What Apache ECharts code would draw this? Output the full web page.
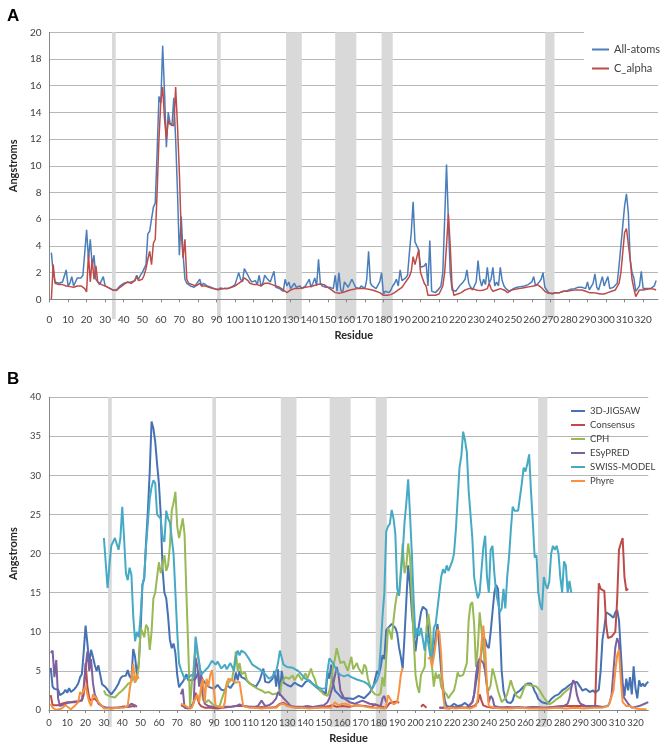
<!DOCTYPE html>
<html><head><meta charset="utf-8">
<script src="https://cdn.jsdelivr.net/npm/echarts/dist/echarts.min.js"></script>
<style>html,body{margin:0;padding:0;background:#fff}#c{width:661px;height:746px}</style>
</head><body><div id="c"></div>
<script>
// ---------- Panel A (values for residues 1..327) ----------
const allAtoms = [
3.5,2.0,1.3,1.4,1.2,1.1,1.3,1.2,2.2,1.0,
1.2,1.7,1.0,1.3,1.6,1.7,1.6,1.8,1.7,5.2,
3.0,4.5,2.5,3.3,1.5,1.3,1.1,1.2,1.7,1.0,
0.95,0.85,0.8,0.7,0.65,0.7,0.85,1.0,1.1,1.2,
1.3,1.25,1.2,1.3,1.2,1.4,1.8,1.5,1.8,2.0,
2.3,2.6,4.9,5.1,5.0,6.9,7.2,11.0,15.2,14.7,
19.0,15.5,11.4,14.0,13.2,13.0,15.1,12.0,8.0,3.3,
6.2,3.4,1.5,1.2,1.1,1.0,1.1,0.9,1.0,1.3,
1.5,1.0,1.2,1.1,1.0,1.0,0.9,0.9,0.8,0.8,
0.7,0.85,0.75,0.8,0.9,0.8,0.9,0.9,1.0,1.1,
1.2,2.0,1.5,1.3,2.3,2.3,1.8,1.5,1.3,1.2,
1.4,1.1,1.8,1.0,1.2,1.8,1.6,1.5,1.3,1.4,
2.1,0.9,1.0,0.8,0.7,0.6,1.5,1.0,1.3,0.8,
1.0,1.2,0.9,0.8,1.0,0.8,0.9,1.0,0.9,1.5,
0.9,1.2,1.6,1.0,3.0,1.2,1.0,1.1,0.9,1.0,
0.9,1.0,0.8,1.8,0.6,2.0,0.7,0.5,1.3,1.2,
0.9,1.0,1.5,1.4,0.9,0.8,0.8,1.0,0.9,0.8,
1.5,3.6,1.2,1.0,1.0,0.8,0.9,1.3,2.0,0.4,
0.6,0.7,0.5,0.7,1.0,1.2,1.5,1.0,2.2,1.4,
1.5,1.6,1.8,3.5,5.0,7.3,4.3,4.2,3.7,2.4,
2.5,2.5,2.7,1.0,4.4,0.6,0.5,0.5,0.6,0.8,
1.0,2.0,6.0,10.1,6.0,2.0,0.7,0.6,0.6,0.8,
1.0,1.0,1.3,1.5,2.2,1.2,0.9,0.7,1.0,1.3,
2.9,1.5,1.0,1.5,1.1,2.4,1.2,1.5,2.4,1.0,
1.3,1.0,2.4,1.4,1.0,0.8,0.7,0.6,0.7,0.8,
0.85,0.9,0.9,0.95,1.0,1.0,1.0,1.1,1.2,1.3,
1.7,1.0,1.1,1.3,1.5,2.0,0.9,0.7,0.5,0.45,
0.4,0.5,0.5,0.45,0.5,0.55,0.6,0.6,0.65,0.7,
0.75,0.8,0.8,0.85,0.9,0.9,0.9,0.85,0.8,1.3,
0.7,0.6,1.2,1.9,0.9,0.7,0.8,1.7,1.0,0.9,
1.7,0.8,0.8,0.9,1.0,1.2,2.5,4.0,5.5,7.0,
7.9,6.5,3.0,2.0,1.6,0.6,0.8,1.0,2.1,0.8,
0.9,0.8,0.9,0.8,0.9,1.0,1.4];
const cAlpha = [
0,2.6,1.2,1.2,1.1,1.1,1.1,1.0,1.0,1.0,
0.95,0.9,0.9,0.95,1.0,1.0,1.0,0.9,0.8,0.55,
3.4,1.3,3.0,1.5,2.5,1.3,1.2,1.1,1.1,1.0,
0.9,0.85,0.8,0.7,0.6,0.65,0.75,0.9,1.0,1.1,
1.2,1.3,1.25,1.2,1.3,1.4,1.7,1.4,1.4,1.5,
1.8,2.3,3.0,3.6,2.6,4.2,4.5,8.0,12.0,14.8,
15.9,13.5,12.0,13.4,13.1,13.0,13.0,15.9,13.0,9.5,
5.0,3.1,4.5,1.5,1.2,1.1,1.1,1.05,1.0,1.1,
1.2,1.0,1.0,1.0,0.95,0.9,0.85,0.8,0.8,0.75,
0.75,0.75,0.75,0.8,0.8,0.8,0.85,0.9,0.95,1.0,
1.1,1.2,1.3,1.4,1.6,1.7,1.4,1.2,1.1,1.1,
1.2,1.1,1.0,1.0,1.1,1.2,1.3,1.2,1.1,1.1,
1.1,1.0,1.0,0.9,0.8,0.7,0.6,0.5,0.55,0.7,
0.75,0.8,0.8,0.8,0.85,0.85,0.85,0.9,0.9,0.95,
1.0,1.0,1.0,1.1,1.1,1.15,1.2,1.1,1.0,0.9,
0.8,0.7,0.6,0.5,0.45,0.45,0.45,0.5,0.55,0.6,
0.65,0.7,0.75,0.75,0.8,0.8,0.8,0.8,0.8,0.8,
0.75,0.75,0.7,0.7,0.65,0.6,0.55,0.5,0.4,0.3,
0.25,0.3,0.3,0.35,0.4,0.5,0.6,0.7,0.8,0.9,
1.1,1.3,1.5,1.7,2.1,3.2,2.6,2.7,3.7,2.0,
1.6,1.2,1.0,0.3,0.3,0.3,0.3,0.3,0.3,0.4,
0.5,1.0,2.0,4.0,6.4,4.0,1.0,0.3,0.3,0.4,
0.5,0.5,0.6,0.7,0.8,0.8,0.8,0.8,0.75,0.7,
0.6,0.65,0.7,0.7,0.6,0.8,1.2,0.8,0.6,0.7,
0.7,0.75,0.8,0.8,0.7,0.6,0.5,0.6,0.7,0.7,
0.75,0.8,0.8,0.85,0.85,0.9,0.9,0.9,0.95,1.0,
1.0,1.05,1.1,1.0,0.9,0.8,0.6,0.5,0.45,0.4,
0.45,0.5,0.5,0.5,0.5,0.55,0.6,0.6,0.6,0.6,
0.65,0.7,0.7,0.7,0.7,0.7,0.7,0.65,0.6,0.55,
0.5,0.5,0.5,0.5,0.45,0.45,0.4,0.4,0.4,0.45,
0.5,0.55,0.6,0.6,0.7,0.7,1.2,2.0,3.5,5.0,
5.3,5.4,3.0,1.5,0.8,0.2,0.3,0.7,0.7,0.7,
0.7,0.75,0.8,0.8,0.8,0.75,0.7];

// ---------- Panel B ([residue, value]; null = gap) ----------
const jigsaw3d = [[1,5.4],[2,3.0],[3,2.7],[5,2.6],[6,1.9],[7,1.8],[8,2.2],[9,2.6],[10,2.2],[11,2.8],[12,2.3],[13,2.1],[14,2.7],[15,3.0],[16,3.4],[17,4.2],[18,4.6],[19,7.5],[20,10.8],[21,8.5],[22,6.0],[23,7.7],[24,6.8],[25,5.8],[26,5.0],[27,5.7],[28,4.5],[29,3.3],[30,3.2],[31,2.9],[33,2.3],[34,2.0],[35,2.1],[36,2.6],[38,3.4],[39,4.0],[40,4.3],[41,4.5],[42,4.4],[43,5.1],[44,4.3],[45,4.0],[46,7.8],[47,6.8],[48,4.5],[49,6.0],[50,10.0],[51,16.0],[52,16.8],[53,21.5],[54,25.5],[55,30.5],[56,36.9],[57,36.0],[58,34.3],[59,31.5],[60,29.0],[61,25.0],[62,18.0],[63,15.0],[64,14.3],[65,12.0],[66,9.0],[67,7.9],[68,8.5],[69,7.3],[70,4.5],[71,2.9],[72,3.3],[73,3.6],[74,4.0],[75,4.6],[76,3.8],[78,3.8],[80,4.0],[81,4.6],[82,5.0],[83,4.2],[85,3.5],[87,3.0],[88,2.9],[90,2.7],[92,3.2],[94,2.6],[96,2.5],[97,3.2],[99,2.8],[101,3.5],[102,4.8],[103,3.8],[104,5.0],[105,4.2],[107,4.0],[109,3.5],[111,3.2],[113,3.0],[115,3.8],[117,5.3],[118,3.6],[120,3.5],[122,4.0],[123,5.0],[124,3.0],[125,5.2],[126,1.8],[127,5.0],[128,3.5],[130,3.2],[132,3.0],[134,3.5],[136,3.2],[138,3.0],[140,3.6],[142,3.8],[144,3.3],[146,2.9],[148,2.5],[150,2.3],[151,2.0],[152,4.8],[153,4.0],[154,5.8],[155,3.5],[156,2.5],[158,2.0],[160,1.5],[163,1.5],[166,1.4],[169,1.8],[172,1.5],[175,2.2],[177,3.0],[178,4.0],[179,5.0],[180,4.5],[181,5.5],[182,7.0],[183,6.5],[184,10.2],[185,10.5],[186,10.7],[187,11.0],[188,11.1],[189,10.5],[190,9.8],[191,8.0],[192,6.8],[193,5.3],[194,9.4],[195,14],[196,18.5],[197,16],[198,12.5],[199,10],[200,7.5],[201,9.5],[202,11],[203,12.5],[204,13.2],[205,13.0],[206,12.8],[207,10],[208,8.5],[209,6.3],[210,7.5],[211,9.5],[212,11],[213,8],[214,5],[215,3.0],[216,1.2],[217,0.5],[219,0.4],[221,0.8],[223,0.5],[225,0.6],[227,0.9],[229,0.5],[231,1.0],[232,2.0],[233,3.5],[234,4.8],[235,6.0],[236,7.5],[237,9.3],[238,9.0],[239,8.2],[240,7.9],[241,10],[242,12.5],[243,15],[244,16],[245,15.5],[246,11],[247,5],[248,2.5],[249,1.5],[250,1.0],[252,0.9],[253,1.2],[254,2.0],[255,2.0],[257,2.5],[259,3.0],[261,3.4],[262,3.6],[263,3.4],[264,3.0],[265,2.4],[266,2.0],[267,1.4],[268,1.2],[269,1.0],[270,0.9],[272,0.8],[274,1.4],[276,1.8],[278,2.0],[280,2.5],[282,2.8],[284,3.2],[286,3.5],[287,3.7],[288,3.6],[289,3.4],[290,2.9],[291,2.5],[292,2.3],[293,2.7],[294,2.5],[295,2.3],[296,2.2],[297,2.5],[298,2.2],[299,2.4],[300,2.6],[301,5.0],[302,9.0],[303,10.5],[304,12.5],[305,12.6],[306,12.2],[307,12.0],[308,11.8],[309,12.5],[310,12.8],[311,11.5],[312,7.5],[313,3.5],[314,1.8],[315,4.0],[316,2.5],[317,4.2],[318,2.0],[319,5.6],[320,2.8],[321,1.5],[322,3.8],[323,3.0],[324,3.4],[325,3.0],[326,3.4],[327,3.6]];
const consensus = [[1,1.9],[2,0.6],[3,0.5],[5,0.6],[7,0.8],[10,1.0],[12,1.0],[14,1.1],[16,1.1],[18,1.2],[19,2.0],[20,6.0],[21,3.0],[22,1.5],[23,1.2],[24,1.3],[25,1.5],[26,1.2],[27,1.0],[28,0.7],[29,0.5],[30,0.3],[32,0.3],[34,0.2],[36,0.3],[38,0.3],[40,0.4],[41,0.5],[42,0.4],[43,0.3],[44,0.4],[45,0.5],[46,0.5],[47,0.4],[48,null],[72,0.6],[73,0.6],[74,0.4],[75,0.3],[77,0.2],[78,0.3],[79,1.0],[80,2.2],[81,1.5],[82,0.8],[83,0.5],[85,0.3],[88,0.3],[92,0.2],[95,0.3],[99,0.4],[102,0.5],[106,0.5],[110,0.4],[113,0.3],[116,0.4],[120,0.3],[124,0.4],[126,0.8],[128,0.9],[130,0.6],[133,0.4],[136,0.3],[140,0.4],[145,0.3],[150,0.4],[153,0.5],[155,0.6],[157,0.4],[160,0.5],[164,0.4],[168,0.6],[172,0.5],[176,0.4],[178,0.7],[180,0.5],[182,0.4],[184,0.3],[186,0.9],[188,1.0],[190,1.1],[191,0.9],[192,null],[203,0.4],[204,0.7],[205,0.6],[206,0.3],[207,null],[213,0.3],[215,0.3],[218,0.2],[221,0.3],[224,0.4],[227,0.3],[230,0.4],[232,0.5],[234,1.0],[235,2.0],[236,1.2],[237,0.6],[239,0.4],[242,0.3],[246,0.3],[250,0.4],[255,0.3],[260,0.3],[265,0.4],[270,0.3],[275,0.4],[280,0.5],[285,0.5],[290,0.5],[295,0.4],[298,0.5],[299,0.6],[300,16.2],[301,15.5],[302,15.6],[303,15.2],[304,11],[305,9.2],[306,9.0],[307,9.4],[308,9.3],[309,10],[310,14],[311,20.5],[312,21.3],[313,22],[314,17],[315,15.3],[316,15.5]];
const cph = [[30,2.5],[31,2.0],[32,1.8],[34,1.7],[36,1.6],[37,1.7],[38,2.1],[39,2.2],[40,2.5],[41,2.6],[42,3.0],[43,3.3],[44,3.5],[45,3.6],[46,4.3],[47,3.5],[48,4.0],[49,5.5],[50,10.5],[51,10.0],[52,9.3],[53,10.9],[54,10.5],[55,7.7],[56,10.0],[57,14.3],[58,15.0],[59,17.0],[60,18.9],[61,17.5],[62,18.5],[63,19.8],[64,17.8],[65,18.5],[66,21.0],[67,25.5],[68,26.5],[69,27.9],[70,23.5],[71,22.0],[72,22.2],[73,24.5],[74,22.5],[75,15],[76,8],[77,0.5],[78,3.5],[79,5.5],[80,8.2],[81,8.0],[82,6.0],[83,3.5],[84,1.3],[86,1.0],[87,1.3],[89,0.8],[91,0.5],[93,0.4],[94,1.2],[96,2.5],[98,3.5],[100,4.0],[101,5.5],[102,7.5],[103,5.0],[104,6.0],[105,4.6],[107,4.8],[108,3.8],[110,3.3],[112,3.0],[114,2.7],[116,2.5],[118,2.2],[120,2.3],[122,2.0],[124,2.1],[126,2.0],[127,3.5],[128,3.3],[129,4.2],[131,4.0],[133,4.4],[134,3.8],[136,4.6],[138,3.8],[140,4.7],[141,4.0],[143,5.3],[144,4.5],[145,4.0],[146,3.2],[148,2.5],[150,2.0],[152,1.8],[153,2.5],[154,3.5],[155,5.5],[156,6.5],[157,7.9],[159,6.0],[161,6.2],[163,5.0],[165,6.8],[166,5.2],[168,6.0],[169,5.3],[171,4.6],[172,5.8],[173,5.5],[174,4.0],[176,2.5],[178,2.0],[180,1.9],[181,2.2],[182,4.2],[183,3.0],[184,6.5],[185,10.5],[186,10.0],[187,9.0],[188,11.5],[189,13.5],[190,15.0],[191,14.7],[192,18.0],[193,21.3],[194,17.5],[195,18.5],[196,21.3],[197,19.5],[198,14.5],[199,9.0],[200,4.5],[201,3.0],[202,2.2],[203,4.5],[204,5.0],[205,5.5],[206,10.5],[207,12.3],[208,10.5],[209,5.5],[210,3.0],[211,4.8],[212,4.0],[213,4.6],[214,3.0],[215,2.5],[217,2.0],[218,1.5],[219,1.9],[221,2.5],[222,3.5],[223,4.8],[224,4.3],[226,4.5],[227,4.4],[228,6.0],[229,11.5],[230,13.5],[231,13.8],[232,11.0],[233,5.5],[234,8.0],[235,12.5],[236,12.5],[237,8.0],[238,5.0],[239,3.0],[240,2.5],[241,3.2],[242,5.3],[243,4.5],[244,3.5],[245,2.5],[247,1.0],[249,1.5],[250,2.0],[252,3.8],[253,3.0],[254,2.4],[255,1.8],[257,1.5],[258,2.0],[260,3.3],[262,3.2],[264,3.1],[266,3.0],[268,2.4],[270,1.6],[272,1.0],[273,0.7],[275,1.0],[277,1.4],[279,1.7],[281,2.2],[283,2.6],[285,3.0]];
const esypred = [[1,7.3],[2,7.6],[3,4.2],[4,6.4],[5,1.5],[6,0.5],[8,0.7],[10,0.9],[12,1.0],[14,1.0],[16,1.1],[18,1.3],[19,3.0],[20,5.5],[21,7.5],[22,5.0],[23,6.5],[24,3.5],[25,2.0],[26,1.5],[27,0.8],[29,0.5],[31,0.3],[34,0.3],[37,0.3],[40,0.4],[43,0.4],[45,0.8],[46,0.9],[47,0.6],[48,0.4],[49,null],[72,2.0],[73,2.7],[74,0.3],[76,0.2],[78,0.5],[79,1.0],[80,6.7],[81,5.5],[82,3.0],[83,5.0],[84,2.0],[85,0.8],[87,0.5],[90,0.4],[93,0.3],[96,0.4],[99,0.4],[102,0.5],[104,0.7],[106,0.5],[109,0.4],[112,0.4],[114,0.5],[116,1.2],[118,0.5],[120,0.6],[122,0.9],[124,1.5],[125,2.3],[126,2.5],[128,1.5],[130,1.0],[132,0.5],[135,0.4],[138,0.4],[141,0.5],[144,0.4],[147,0.5],[150,0.6],[152,1.0],[153,1.5],[155,3.2],[157,5.5],[158,4.5],[159,2.5],[161,1.5],[164,1.0],[167,0.8],[171,1.2],[175,0.8],[178,0.7],[181,0.5],[182,1.5],[183,1.8],[184,1.0],[185,null],[213,0.3],[216,0.3],[220,0.4],[224,0.3],[228,0.3],[231,1.0],[232,2.0],[233,4.5],[234,6.0],[235,6.6],[236,6.3],[237,6.0],[238,5.0],[239,3.0],[240,1.0],[241,1.8],[242,1.5],[243,0.5],[245,0.4],[248,0.3],[252,0.3],[256,0.4],[260,0.3],[264,0.4],[268,0.3],[272,0.3],[276,0.4],[280,0.4],[283,0.8],[284,1.5],[285,2.8],[286,3.8],[287,3.5],[288,2.0],[289,1.2],[290,0.8],[293,0.5],[296,0.5],[299,0.5],[302,0.4],[305,0.5],[306,1.0],[307,2.0],[308,5.0],[309,8.0],[310,9.2],[311,8.5],[312,5.0],[313,2.0],[314,1.5],[316,0.8],[318,0.3],[320,0.4],[322,0.5],[323,0.3],[325,0.8],[327,1.0]];
const swissModel = [[30,22.0],[31,21.8],[32,15.6],[33,18.5],[34,21.0],[35,21.5],[36,22.0],[37,22.2],[38,20.5],[39,22.0],[40,26.0],[41,22.0],[42,17.5],[43,16.6],[44,18.2],[45,17.3],[46,12.0],[47,8.8],[48,10.0],[49,9.3],[50,12.0],[51,16.0],[52,17.0],[53,21.0],[54,24.0],[55,27.0],[56,28.5],[57,29.4],[58,29.0],[59,25.0],[60,25.0],[61,24.5],[62,22.0],[63,21.5],[64,25.5],[65,24.5],[66,24.0],[67,24.0],[68,20.0],[69,15.0],[70,10.0],[71,6.0],[72,5.2],[73,4.6],[74,4.0],[76,4.2],[77,4.0],[78,4.5],[79,4.2],[80,9.4],[81,9.3],[82,6.0],[83,4.5],[85,5.0],[87,5.5],[89,6.3],[91,5.8],[92,6.2],[94,5.3],[96,5.8],[97,5.2],[99,6.0],[101,5.0],[102,6.8],[103,7.6],[104,7.0],[105,7.6],[107,7.3],[109,6.6],[111,5.8],[112,5.7],[115,5.2],[118,4.6],[120,4.0],[122,4.3],[124,5.0],[125,6.0],[126,7.6],[128,5.8],[130,5.5],[133,5.4],[136,5.0],[138,4.5],[140,4.0],[143,3.5],[146,3.0],[149,2.7],[151,2.8],[152,5.0],[153,6.6],[155,6.0],[157,5.0],[159,4.5],[161,4.3],[163,4.5],[165,4.2],[168,3.9],[172,3.6],[174,3.3],[176,2.7],[177,2.5],[179,3.8],[180,4.5],[181,8.0],[182,12.0],[183,15.0],[184,22.8],[185,23.5],[186,23.8],[187,25.6],[188,24.5],[189,22.5],[190,15.5],[191,14.6],[192,14.5],[193,20.0],[194,24.0],[195,26.5],[196,29.5],[197,25.0],[198,20.0],[199,14.0],[200,9.2],[201,10.5],[202,9.5],[203,10.5],[204,10.3],[205,7.6],[206,9.8],[207,8.5],[208,7.0],[209,6.5],[210,10.5],[211,11.0],[212,13.0],[213,15.0],[214,17.0],[215,18.0],[216,17.5],[217,18.5],[218,17.8],[219,18.0],[220,19.0],[221,20.0],[222,23.0],[223,27.0],[224,31.0],[225,32.5],[226,35.6],[227,34.5],[228,33.0],[229,28.0],[230,25.0],[231,22.0],[232,17.0],[233,15.5],[234,14.3],[235,15.0],[236,15.0],[237,20.8],[238,22.3],[239,17.0],[240,15.0],[241,20.5],[242,21.0],[243,17.5],[244,15.0],[245,15.0],[246,12.5],[247,13.0],[248,15.5],[249,13.0],[250,17.0],[251,19.5],[252,23.0],[253,26.0],[254,25.5],[255,25.3],[256,25.5],[257,25.3],[258,29.0],[259,31.0],[260,30.5],[261,31.5],[262,32.7],[263,28.0],[264,24.0],[265,19.5],[266,19.8],[267,15.0],[268,13.5],[269,12.8],[270,17.0],[271,16.0],[272,15.5],[273,16.5],[274,20.0],[275,21.0],[276,20.5],[277,21.0],[278,20.0],[279,17.0],[280,15.0],[281,19.0],[282,18.5],[283,15.0],[284,16.5],[285,15.0]];
const phyre = [[1,0.8],[2,0.3],[4,0.0],[7,0.2],[9,0.6],[10,0.6],[12,0.1],[14,0.5],[16,1.0],[17,2.3],[18,2.0],[19,2.5],[20,3.1],[21,2.0],[22,1.0],[23,0.5],[24,2.0],[25,2.2],[26,1.5],[27,1.0],[29,0.5],[30,0.2],[34,0.2],[38,0.3],[41,0.3],[43,0.5],[44,2.5],[45,4.0],[46,5.9],[47,3.5],[48,4.5],[49,4.0],[50,null],[72,0.8],[74,0.6],[76,0.3],[78,0.3],[79,1.0],[80,1.5],[81,2.0],[82,1.0],[83,3.0],[84,4.0],[85,1.0],[86,4.0],[87,3.0],[88,4.5],[89,5.1],[90,2.5],[91,0.5],[92,0.3],[95,0.3],[96,1.0],[97,3.5],[98,4.0],[100,3.8],[102,3.5],[104,3.6],[105,2.0],[106,0.5],[109,0.3],[112,0.3],[116,0.2],[120,0.3],[124,0.3],[126,0.7],[128,0.8],[130,0.5],[134,0.3],[138,0.3],[142,0.2],[146,0.3],[150,0.3],[154,0.3],[156,1.0],[158,0.6],[160,0.8],[162,0.8],[165,0.5],[169,0.6],[173,0.4],[176,0.3],[180,0.3],[183,0.2],[184,0.5],[185,1.9],[186,1.5],[187,1.5],[188,0.7],[190,1.0],[191,2.5],[192,4.5],[193,5.4],[194,null],[207,6.5],[208,6.8],[209,5.5],[210,6.8],[211,8.5],[212,10.3],[213,10.0],[214,7.0],[215,2.0],[216,0.2],[219,0.3],[222,0.2],[226,0.3],[230,0.2],[233,0.5],[234,1.5],[235,5.0],[236,8.5],[237,10.8],[238,8.0],[239,3.0],[240,0.5],[243,0.3],[247,0.2],[252,0.2],[257,0.3],[262,0.2],[267,0.2],[272,0.2],[277,0.3],[282,0.2],[287,0.3],[292,0.2],[297,0.3],[302,0.3],[305,0.5],[306,1.0],[308,2.5],[309,5.0],[310,7.0],[311,7.7],[312,4.0],[313,1.0],[315,0.5],[317,0.5],[320,0.2],[323,0.1],[326,0.1]];

// grey highlighted residue ranges
const bandStart = [33.7, 90.3, 127.5, 154, 179, 267.2];
const bandEnd   = [35.7, 92.3, 136, 165.4, 185, 272.2];

const seriesNamesA = ['All-atoms','C_alpha'];
const seriesNamesB = ['3D-JIGSAW','Consensus','CPH','ESyPRED','SWISS-MODEL','Phyre'];
const colorsA = ['#4a7ebb','#be4b48'];
const colorsB = ['#4672b4','#be4b48','#98b954','#7d60a0','#46aac5','#f69240'];

const FONT = 'Lato, "Open Sans", sans-serif';
const grey = '#d9d9d9';
const bandAreas = bandStart.map((s,i)=>[{xAxis:s, yAxis:0},{xAxis:bandEnd[i], yAxis:1}]);

const chart = echarts.init(document.getElementById('c'), null, {renderer:'canvas'});

function xAx(grid, max, show, margin, nameGap, fs) {
  return {
    type:'value', gridIndex:grid, min:0, max:max, interval:10, show:show, z:3,
    name: show ? 'Residue' : '', nameLocation:'middle', nameGap:nameGap,
    nameTextStyle:{fontFamily:FONT, fontWeight:'bold', fontSize:11, color:'#262626'},
    axisLine:{show:true, onZero:false, lineStyle:{color:'#868686', width:1}},
    axisTick:{show:true, length:3, lineStyle:{color:'#868686'}},
    axisLabel:{fontFamily:FONT, fontSize:fs, color:'#404040', margin:margin, showMaxLabel:false},
    splitLine:{show:false}
  };
}
function yAx(grid, max, interval, nameGap, fs) {
  return {
    type:'value', gridIndex:grid, min:0, max:max, interval:interval,
    name:'Angstroms', nameLocation:'middle', nameGap:nameGap,
    nameTextStyle:{fontFamily:FONT, fontWeight:'bold', fontSize:11, color:'#262626'},
    axisLine:{show:true, lineStyle:{color:'#868686', width:1}},
    axisTick:{show:false},
    axisLabel:{fontFamily:FONT, fontSize:fs, color:'#404040', margin:8},
    splitLine:{show:true, lineStyle:{color:'#b7b7b7', width:1}}
  };
}
function hiddenY(grid){ return {type:'value', gridIndex:grid, min:0, max:1, show:false}; }

const series = [];
series.push({type:'line', xAxisIndex:2, yAxisIndex:2, data:[], silent:true, z:1,
  markArea:{silent:true, itemStyle:{color:grey}, data:bandAreas}});
series.push({type:'line', xAxisIndex:3, yAxisIndex:3, data:[], silent:true, z:1,
  markArea:{silent:true, itemStyle:{color:grey}, data:bandAreas}});

[allAtoms, cAlpha].forEach((arr, k) => {
  series.push({name:seriesNamesA[k], type:'line', xAxisIndex:0, yAxisIndex:0, showSymbol:false, symbol:'none',
    z:2, lineStyle:{color:colorsA[k], width:1.5}, itemStyle:{color:colorsA[k]},
    data: arr.map((v,i)=>[i+1, v])});
});
[jigsaw3d, consensus, cph, esypred, swissModel, phyre].forEach((arr, k) => {
  series.push({name:seriesNamesB[k], type:'line', xAxisIndex:1, yAxisIndex:1, showSymbol:false, symbol:'none',
    z:2, connectNulls:false, lineStyle:{color:colorsB[k], width:2}, itemStyle:{color:colorsB[k]},
    data: arr});
});

chart.setOption({
  animation:false,
  backgroundColor:'#ffffff',
  title:[
    {text:'A', left:2, top:3, textStyle:{fontFamily:'Liberation Sans, Arial', fontWeight:'bold', fontSize:17, color:'#000'}},
    {text:'B', left:2, top:366, textStyle:{fontFamily:'Liberation Sans, Arial', fontWeight:'bold', fontSize:17, color:'#000'}}
  ],
  grid:[
    {left:49.5, top:32.3, width:608.5, height:267},
    {left:46, top:397.3, width:602.3, height:312.7},
    {left:49.5, top:32.3, width:608.5, height:287},
    {left:46, top:397.3, width:602.3, height:329.7}
  ],
  xAxis:[ xAx(0, 328, true, 15, 31, 10), xAx(1, 327, true, 8, 23, 9.5), xAx(2, 328, false, 0, 0, 9), xAx(3, 327, false, 0, 0, 9) ],
  yAxis:[ yAx(0, 20, 2, 22, 10), yAx(1, 40, 5, 20, 9.5), hiddenY(2), hiddenY(3) ],
  legend:[
    {data:seriesNamesA, orient:'vertical', left:584, top:32, padding:[12,6,9,8], itemGap:8,
     backgroundColor:'#ffffff', icon:'rect', itemWidth:17, itemHeight:2, selectedMode:false,
     textStyle:{fontFamily:FONT, fontSize:11, color:'#404040'}},
    {data:seriesNamesB, orient:'vertical', left:571, top:406, padding:0, itemGap:4,
     icon:'rect', itemWidth:14, itemHeight:2, selectedMode:false,
     textStyle:{fontFamily:FONT, fontSize:9.5, color:'#404040'}}
  ],
  series: series
});
</script></body></html>
